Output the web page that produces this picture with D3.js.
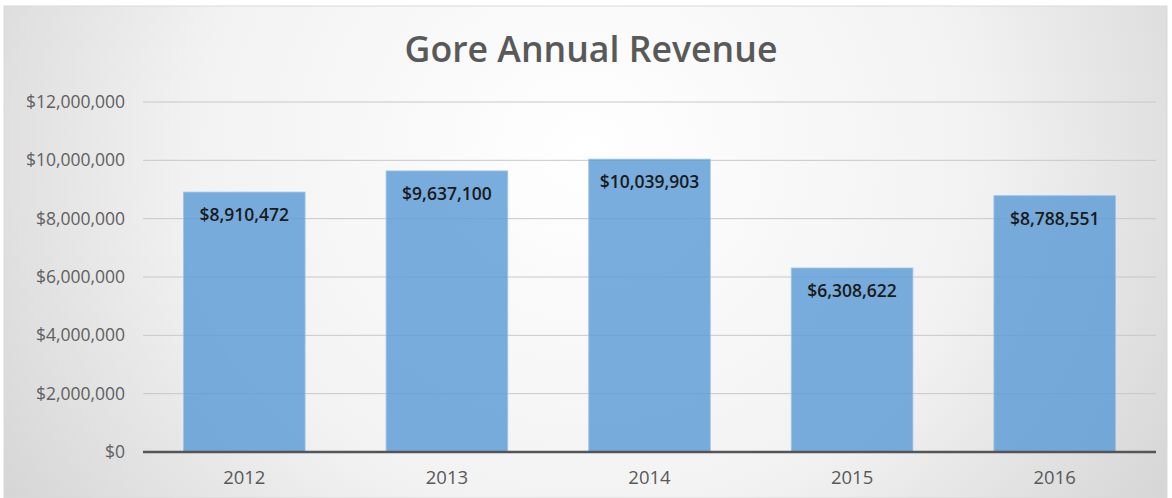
<!DOCTYPE html>
<html><head><meta charset="utf-8">
<script src="https://cdn.jsdelivr.net/npm/d3@7"></script>
<style>html,body{margin:0;padding:0;background:#fff;}svg{display:block;}</style>
</head><body>
<svg id="chart" width="1172" height="498"></svg>
<script>
const title = "Gore Annual Revenue";
const categories = ["2012", "2013", "2014", "2015", "2016"];
const revenue = [8910472, 9637100, 10039903, 6308622, 8788551];
const yTicks = [0, 2000000, 4000000, 6000000, 8000000, 10000000, 12000000];

const svg = d3.select("#chart");
const W = 1172, H = 498;
const defs = svg.append("defs");
const grad = defs.append("radialGradient").attr("id", "bg")
  .attr("cx", "50%").attr("cy", "30%").attr("r", "75%")
  .attr("gradientTransform", "translate(0.5,0.3) scale(1,2.2) translate(-0.5,-0.3)");
grad.append("stop").attr("offset", "0%").attr("stop-color", "#ffffff");
grad.append("stop").attr("offset", "45%").attr("stop-color", "#f2f2f2");
grad.append("stop").attr("offset", "100%").attr("stop-color", "#c4c4c4");

svg.append("rect").attr("x", 4).attr("y", 6).attr("width", W - 9).attr("height", H - 6)
  .attr("fill", "url(#bg)").attr("stroke", "#d9d9d9").attr("stroke-width", 1);

const m = {left: 143, right: 1156, top: 102, bottom: 452};
const x = d3.scaleBand().domain(categories).range([m.left, m.right]).paddingInner(0.4).paddingOuter(0.2);
const y = d3.scaleLinear().domain([0, 12000000]).range([m.bottom, m.top]);
const fmt = v => "$" + d3.format(",")(v);

// gridlines
svg.append("g").selectAll("line").data(yTicks.filter(d => d > 0)).join("line")
  .attr("x1", m.left).attr("x2", m.right)
  .attr("y1", d => y(d)).attr("y2", d => y(d))
  .attr("stroke", "#c8c8c8").attr("stroke-width", 1);

// y labels
svg.append("g").selectAll("text").data(yTicks).join("text")
  .attr("x", 125).attr("y", d => y(d)).attr("dy", "0.35em")
  .attr("text-anchor", "end").attr("font-family", "Open Sans, sans-serif")
  .attr("font-size", 17.5).attr("fill", "#5f5f5f").text(fmt);

// bars
svg.append("g").selectAll("rect").data(revenue).join("rect")
  .attr("x", (d, i) => x(categories[i])).attr("width", x.bandwidth())
  .attr("y", d => y(d)).attr("height", d => y(0) - y(d))
  .attr("fill", "#5b9bd5").attr("fill-opacity", 0.82)
  .attr("stroke", "#9cc3e6").attr("stroke-width", 1).attr("stroke-opacity", 0.8);

// data labels
svg.append("g").selectAll("text").data(revenue).join("text")
  .attr("x", (d, i) => x(categories[i]) + x.bandwidth() / 2)
  .attr("y", d => y(d) + 23).attr("dy", "0.35em")
  .attr("text-anchor", "middle").attr("font-family", "Open Sans, sans-serif")
  .attr("font-weight", 600).attr("font-size", 17.5).attr("fill", "#1a1a1a").text(fmt);

// axis line
svg.append("line").attr("x1", m.left).attr("x2", m.right)
  .attr("y1", m.bottom).attr("y2", m.bottom)
  .attr("stroke", "#555555").attr("stroke-width", 2.5);

// x labels
svg.append("g").selectAll("text").data(categories).join("text")
  .attr("x", d => x(d) + x.bandwidth() / 2).attr("y", 478).attr("dy", "0.35em")
  .attr("text-anchor", "middle").attr("font-family", "Open Sans, sans-serif")
  .attr("font-size", 18.5).attr("fill", "#595959").text(d => d);

// title
const t = svg.append("text").attr("x", 591).attr("y", 50).attr("dy", "0.35em")
  .attr("text-anchor", "middle").attr("font-family", "Open Sans, sans-serif")
  .attr("font-weight", 600).attr("font-size", 30).attr("fill", "#595959").text(title);
const tw = t.node().getComputedTextLength();
t.attr("font-size", 30 * 373 / tw);
</script>
</body></html>
